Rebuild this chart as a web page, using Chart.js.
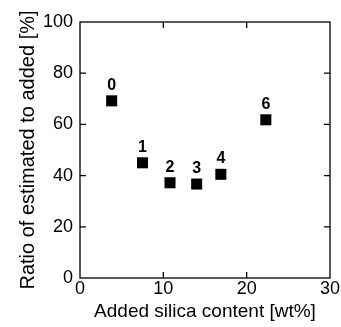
<!DOCTYPE html>
<html>
<head>
<meta charset="utf-8">
<script src="https://cdn.jsdelivr.net/npm/chart.js@4/dist/chart.umd.min.js"></script>
<style>
  html, body { margin: 0; padding: 0; background: #fff; }
  #wrap { width: 341px; height: 327px; }
</style>
</head>
<body>
<div id="wrap"><canvas id="c"></canvas></div>
<script>
// ── Data ─────────────────────────────────────────────────────────────────────
const SAMPLE_LABELS = ["0", "1", "2", "3", "4", "6"];
const SILICA_WT     = [3.8, 7.5, 10.8, 14.0, 16.9, 22.3];
const RATIO_PCT     = [69.2, 45.0, 37.2, 36.7, 40.5, 61.8];

const X_TICKS = [0, 10, 20, 30];
const Y_TICKS = [0, 20, 40, 60, 80, 100];

const FONT = "'Liberation Sans', Arial, sans-serif";

// ── Plugins ──────────────────────────────────────────────────────────────────
// frame + inward ticks on all four sides
const frameTicks = {
  id: "frameTicks",
  afterDraw(chart) {
    const { ctx, chartArea: a, scales } = chart;
    const len = 6;
    ctx.save();
    ctx.strokeStyle = "#000";
    ctx.lineWidth = 1.3;
    ctx.strokeRect(a.left, a.top, a.right - a.left, a.bottom - a.top);
    ctx.beginPath();
    X_TICKS.slice(1, -1).forEach(v => {
      const px = scales.x.getPixelForValue(v);
      ctx.moveTo(px, a.bottom); ctx.lineTo(px, a.bottom - len);
      ctx.moveTo(px, a.top);    ctx.lineTo(px, a.top + len);
    });
    Y_TICKS.slice(1, -1).forEach(v => {
      const py = scales.y.getPixelForValue(v);
      ctx.moveTo(a.left, py);  ctx.lineTo(a.left + len, py);
      ctx.moveTo(a.right, py); ctx.lineTo(a.right - len, py);
    });
    ctx.stroke();
    ctx.restore();
  },
};

// bold sample numbers above each marker
const pointLabels = {
  id: "pointLabels",
  afterDatasetsDraw(chart) {
    const { ctx } = chart;
    const meta = chart.getDatasetMeta(0);
    ctx.save();
    ctx.fillStyle = "#000";
    ctx.font = `bold 16px ${FONT}`;
    ctx.textAlign = "center";
    ctx.textBaseline = "alphabetic";
    meta.data.forEach((pt, i) => {
      ctx.fillText(SAMPLE_LABELS[i], pt.x, pt.y - 11);
    });
    ctx.restore();
  },
};

// ── Chart ────────────────────────────────────────────────────────────────────
new Chart(document.getElementById("c"), {
  type: "scatter",
  data: {
    datasets: [{
      data: SILICA_WT.map((x, i) => ({ x, y: RATIO_PCT[i] })),
      pointStyle: "rect",
      pointRadius: 7.8,
      pointBackgroundColor: "#000",
      pointBorderColor: "#000",
      pointBorderWidth: 0,
    }],
  },
  options: {
    responsive: true,
    maintainAspectRatio: false,
    animation: false,
    layout: { padding: { top: 22, right: 11, left: 12, bottom: 0 } },
    plugins: {
      legend: { display: false },
      tooltip: { enabled: false },
    },
    scales: {
      x: {
        type: "linear",
        min: 0, max: 30,
        afterBuildTicks: s => { s.ticks = X_TICKS.map(v => ({ value: v })); },
        afterFit: s => { s.height = 49; },
        grid: { display: false, drawTicks: false },
        border: { display: false },
        ticks: { color: "#000", font: { family: FONT, size: 18 }, padding: 0, maxRotation: 0 },
        title: {
          display: true, text: "Added silica content [wt%]",
          color: "#000", font: { family: FONT, size: 19 }, padding: { top: 0 },
        },
      },
      y: {
        type: "linear",
        min: 0, max: 100,
        afterBuildTicks: s => { s.ticks = Y_TICKS.map(v => ({ value: v })); },
        afterFit: s => { s.width = 68; },
        grid: { display: false, drawTicks: false },
        border: { display: false },
        ticks: { color: "#000", font: { family: FONT, size: 18 }, padding: 7 },
        title: {
          display: true, text: "Ratio of estimated to added [%]",
          color: "#000", font: { family: FONT, size: 20 }, padding: { bottom: 0 },
        },
      },
    },
  },
  plugins: [frameTicks, pointLabels],
});
</script>
</body>
</html>
